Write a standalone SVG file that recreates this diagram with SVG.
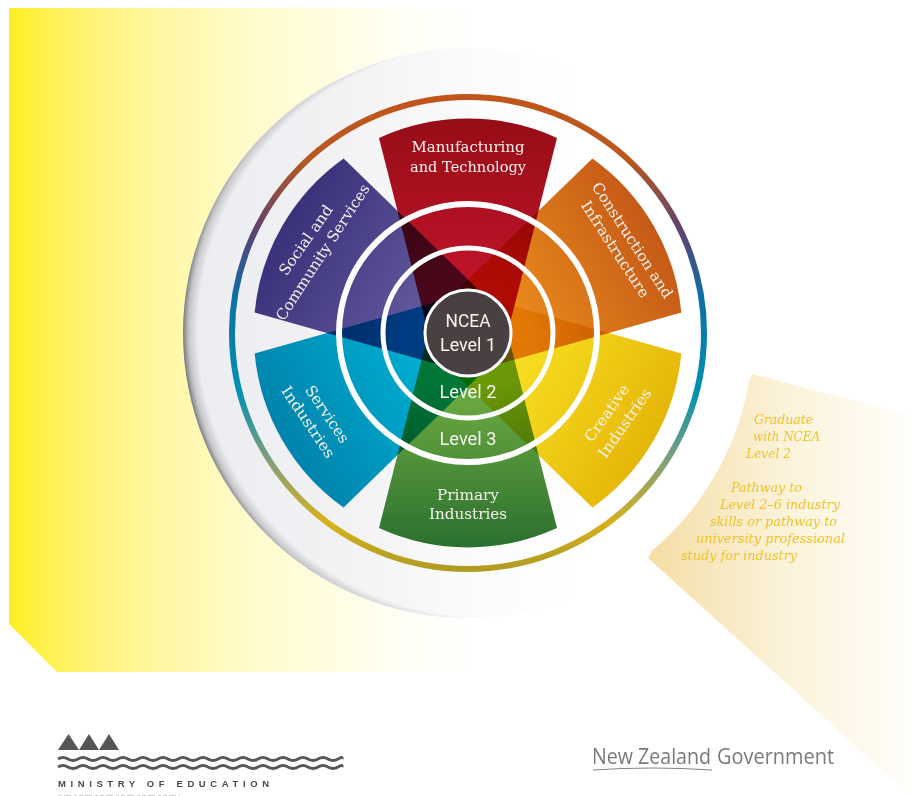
<svg xmlns="http://www.w3.org/2000/svg" width="913" height="796" viewBox="0 0 913 796">
<style>
.w{mix-blend-mode:multiply}
.lab{font-family:"DejaVu Serif","Liberation Serif",serif;font-size:15px;fill:#f6f1ee;text-anchor:middle}
.lev{font-family:Roboto,"Liberation Sans",sans-serif;font-size:18px;fill:#f6f3ef;text-anchor:middle}
.note{font-family:"DejaVu Serif","Liberation Serif",serif;font-style:italic;font-size:13px;fill:#eec22c}
.ring{fill:none;stroke:#fff}
</style>
<defs>
<linearGradient id="bgY" gradientUnits="userSpaceOnUse" x1="9" y1="0" x2="470" y2="0">
<stop offset="0" stop-color="#ffee22"/><stop offset=".12" stop-color="#fff263"/><stop offset=".28" stop-color="#fff697"/><stop offset=".5" stop-color="#fffbc8"/><stop offset=".8" stop-color="#fffef0"/><stop offset="1" stop-color="#fff"/>
</linearGradient>
<linearGradient id="bgG" gradientUnits="userSpaceOnUse" x1="650" y1="0" x2="913" y2="0">
<stop offset="0" stop-color="#f5dea6"/><stop offset=".5" stop-color="#fbf2d8"/><stop offset="1" stop-color="#fffefb"/>
</linearGradient>
<linearGradient id="disc" gradientUnits="userSpaceOnUse" x1="184" y1="0" x2="570" y2="0">
<stop offset="0" stop-color="#ecedf0"/><stop offset=".35" stop-color="#f1f1f4"/><stop offset=".75" stop-color="#fbfbfc"/><stop offset="1" stop-color="#fff"/>
</linearGradient>
<radialGradient id="edge" gradientUnits="userSpaceOnUse" cx="484" cy="331" r="301">
<stop offset=".95" stop-color="#777" stop-opacity="0"/><stop offset=".98" stop-color="#777" stop-opacity=".32"/><stop offset="1" stop-color="#666" stop-opacity=".85"/>
</radialGradient>
<linearGradient id="ringG" gradientUnits="userSpaceOnUse" x1="0" y1="97" x2="0" y2="570">
<stop offset="0" stop-color="#c2541b"/><stop offset=".13" stop-color="#b9591f"/><stop offset=".28" stop-color="#5e4270"/><stop offset=".42" stop-color="#0d6ea6"/><stop offset=".62" stop-color="#0090b0"/><stop offset=".77" stop-color="#82a07c"/><stop offset=".9" stop-color="#d8b01c"/><stop offset="1" stop-color="#ae9b22"/>
</linearGradient>
<linearGradient id="gR" x1="0" y1="0" x2="0" y2="1"><stop offset="0" stop-color="#960d16"/><stop offset=".7" stop-color="#c0142a"/></linearGradient>
<linearGradient id="gO" x1="0" y1="0" x2="0" y2="1"><stop offset="0" stop-color="#c55a17"/><stop offset=".7" stop-color="#ea8a1c"/></linearGradient>
<linearGradient id="gY" x1="0" y1="0" x2="0" y2="1"><stop offset="0" stop-color="#e5b608"/><stop offset=".7" stop-color="#f8e022"/></linearGradient>
<linearGradient id="gG" x1="0" y1="0" x2="0" y2="1"><stop offset="0" stop-color="#2b702f"/><stop offset=".7" stop-color="#70ae42"/></linearGradient>
<linearGradient id="gB" x1="0" y1="0" x2="0" y2="1"><stop offset="0" stop-color="#0083ac"/><stop offset=".7" stop-color="#00afd2"/></linearGradient>
<linearGradient id="gP" x1="0" y1="0" x2="0" y2="1"><stop offset="0" stop-color="#39317a"/><stop offset=".7" stop-color="#62589c"/></linearGradient>
<path id="wedge" d="M-89,-195A214,214 0 0 1 89,-195L34,22L-34,22Z"/>
</defs>

<g id="backdrop">
<path d="M9,8H470V672H57L9,624Z" fill="url(#bgY)"/>
<path d="M752,374L913,416V798L648,558Z" fill="url(#bgG)"/>
<circle cx="468" cy="333" r="285" fill="#fff"/>
<circle cx="468" cy="333" r="285" fill="url(#disc)"/>
<circle cx="468" cy="333" r="285" fill="url(#edge)"/>
<circle cx="468" cy="333" r="236" fill="none" stroke="url(#ringG)" stroke-width="6"/>
</g>

<g id="wedges" style="isolation:isolate">
<use class="w" href="#wedge" transform="translate(468 333)" fill="url(#gR)"/>
<use class="w" href="#wedge" transform="translate(468 333) rotate(60)" fill="url(#gO)"/>
<use class="w" href="#wedge" transform="translate(468 333) rotate(120)" fill="url(#gY)"/>
<use class="w" href="#wedge" transform="translate(468 333) rotate(180)" fill="url(#gG)"/>
<use class="w" href="#wedge" transform="translate(468 333) rotate(240)" fill="url(#gB)"/>
<use class="w" href="#wedge" transform="translate(468 333) rotate(300)" fill="url(#gP)"/>
</g>

<g id="rings">
<circle class="ring" cx="468" cy="333" r="129" stroke-width="6"/>
<circle class="ring" cx="468" cy="333" r="85" stroke-width="5"/>
</g>

<g id="manufacturing">
<text class="lab" x="468" y="152" textLength="113" lengthAdjust="spacingAndGlyphs">Manufacturing</text>
<text class="lab" x="468" y="172" textLength="116" lengthAdjust="spacingAndGlyphs">and Technology</text>
</g>
<g id="construction">
<text class="lab" transform="translate(628 243) rotate(57)" textLength="135" lengthAdjust="spacingAndGlyphs">Construction and</text>
<text class="lab" transform="translate(611 252) rotate(57)" textLength="112" lengthAdjust="spacingAndGlyphs">Infrastructure</text>
</g>
<g id="creative">
<text class="lab" transform="translate(611 416) rotate(-55)" textLength="66" lengthAdjust="spacingAndGlyphs">Creative</text>
<text class="lab" transform="translate(629 426) rotate(-55)" textLength="81" lengthAdjust="spacingAndGlyphs">Industries</text>
</g>
<g id="primary">
<text class="lab" x="468" y="500" textLength="62" lengthAdjust="spacingAndGlyphs">Primary</text>
<text class="lab" x="468" y="519" textLength="78" lengthAdjust="spacingAndGlyphs">Industries</text>
</g>
<g id="services">
<text class="lab" transform="translate(323 417) rotate(56)" textLength="66" lengthAdjust="spacingAndGlyphs">Services</text>
<text class="lab" transform="translate(304 425) rotate(56)" textLength="83" lengthAdjust="spacingAndGlyphs">Industries</text>
</g>
<g id="social">
<text class="lab" transform="translate(310 243) rotate(-55)" textLength="82" lengthAdjust="spacingAndGlyphs">Social and</text>
<text class="lab" transform="translate(327 255) rotate(-57)" textLength="159" lengthAdjust="spacingAndGlyphs">Community Services</text>
</g>

<g id="level1">
<circle cx="468" cy="333" r="43" fill="#4a4042" stroke="#fff" stroke-width="3"/>
<text class="lev" x="468" y="327" textLength="45" lengthAdjust="spacingAndGlyphs">NCEA</text>
<text class="lev" x="468" y="351" textLength="56" lengthAdjust="spacingAndGlyphs">Level 1</text>
</g>
<g id="level2"><text class="lev" x="468" y="398" textLength="57" lengthAdjust="spacingAndGlyphs">Level 2</text></g>
<g id="level3"><text class="lev" x="468" y="445" textLength="57" lengthAdjust="spacingAndGlyphs">Level 3</text></g>

<g id="outcome">
<text class="note" x="754" y="424" textLength="59" lengthAdjust="spacingAndGlyphs">Graduate</text>
<text class="note" x="753" y="441" textLength="67" lengthAdjust="spacingAndGlyphs">with NCEA</text>
<text class="note" x="746" y="458" textLength="45" lengthAdjust="spacingAndGlyphs">Level 2</text>
<text class="note" x="731" y="492" textLength="71" lengthAdjust="spacingAndGlyphs">Pathway to</text>
<text class="note" x="720" y="509" textLength="120" lengthAdjust="spacingAndGlyphs">Level 2–6 industry</text>
<text class="note" x="710" y="526" textLength="127" lengthAdjust="spacingAndGlyphs">skills or pathway to</text>
<text class="note" x="696" y="543" textLength="149" lengthAdjust="spacingAndGlyphs">university professional</text>
<text class="note" x="681" y="560" textLength="116" lengthAdjust="spacingAndGlyphs">study for industry</text>
</g>

<g id="moe-logo">
<path d="M58,750L68.500,734L79,750ZM79,750L89,734L99,750ZM99,750L109,734L119,750Z" fill="#555"/>
<path d="M58,759q5,-3 10,0t10,0t10,0t10,0t10,0t10,0t10,0t10,0t10,0t10,0t10,0t10,0t10,0t10,0t10,0t10,0t10,0t10,0t10,0t10,0t10,0t10,0t10,0t10,0t10,0t10,0t10,0t10,0t4,0" fill="none" stroke="#585858" stroke-width="3"/>
<path d="M58,767q5,-3 10,0t10,0t10,0t10,0t10,0t10,0t10,0t10,0t10,0t10,0t10,0t10,0t10,0t10,0t10,0t10,0t10,0t10,0t10,0t10,0t10,0t10,0t10,0t10,0t10,0t10,0t10,0t10,0t4,0" fill="none" stroke="#585858" stroke-width="3"/>
<text x="58" y="787" font-family="'Liberation Sans',Arial,sans-serif" font-weight="700" font-size="9.500" fill="#4a4a4a" textLength="211">MINISTRY OF EDUCATION</text>
<path d="M58,795.500H180" stroke="#ccc" stroke-width="1" stroke-dasharray="4 2 7 3 3 2"/>
</g>

<g id="nz-government">
<text x="592" y="764" font-family="'Open Sans','Liberation Sans',sans-serif" font-size="22" fill="#77797c" textLength="119" lengthAdjust="spacingAndGlyphs">New Zealand</text>
<text x="717" y="764" font-family="'Open Sans','Liberation Sans',sans-serif" font-size="22" fill="#77797c" textLength="117" lengthAdjust="spacingAndGlyphs">Government</text>
<path d="M593,770Q652,766 712,770" fill="none" stroke="#808285" stroke-width="1.200"/>
</g>
</svg>
